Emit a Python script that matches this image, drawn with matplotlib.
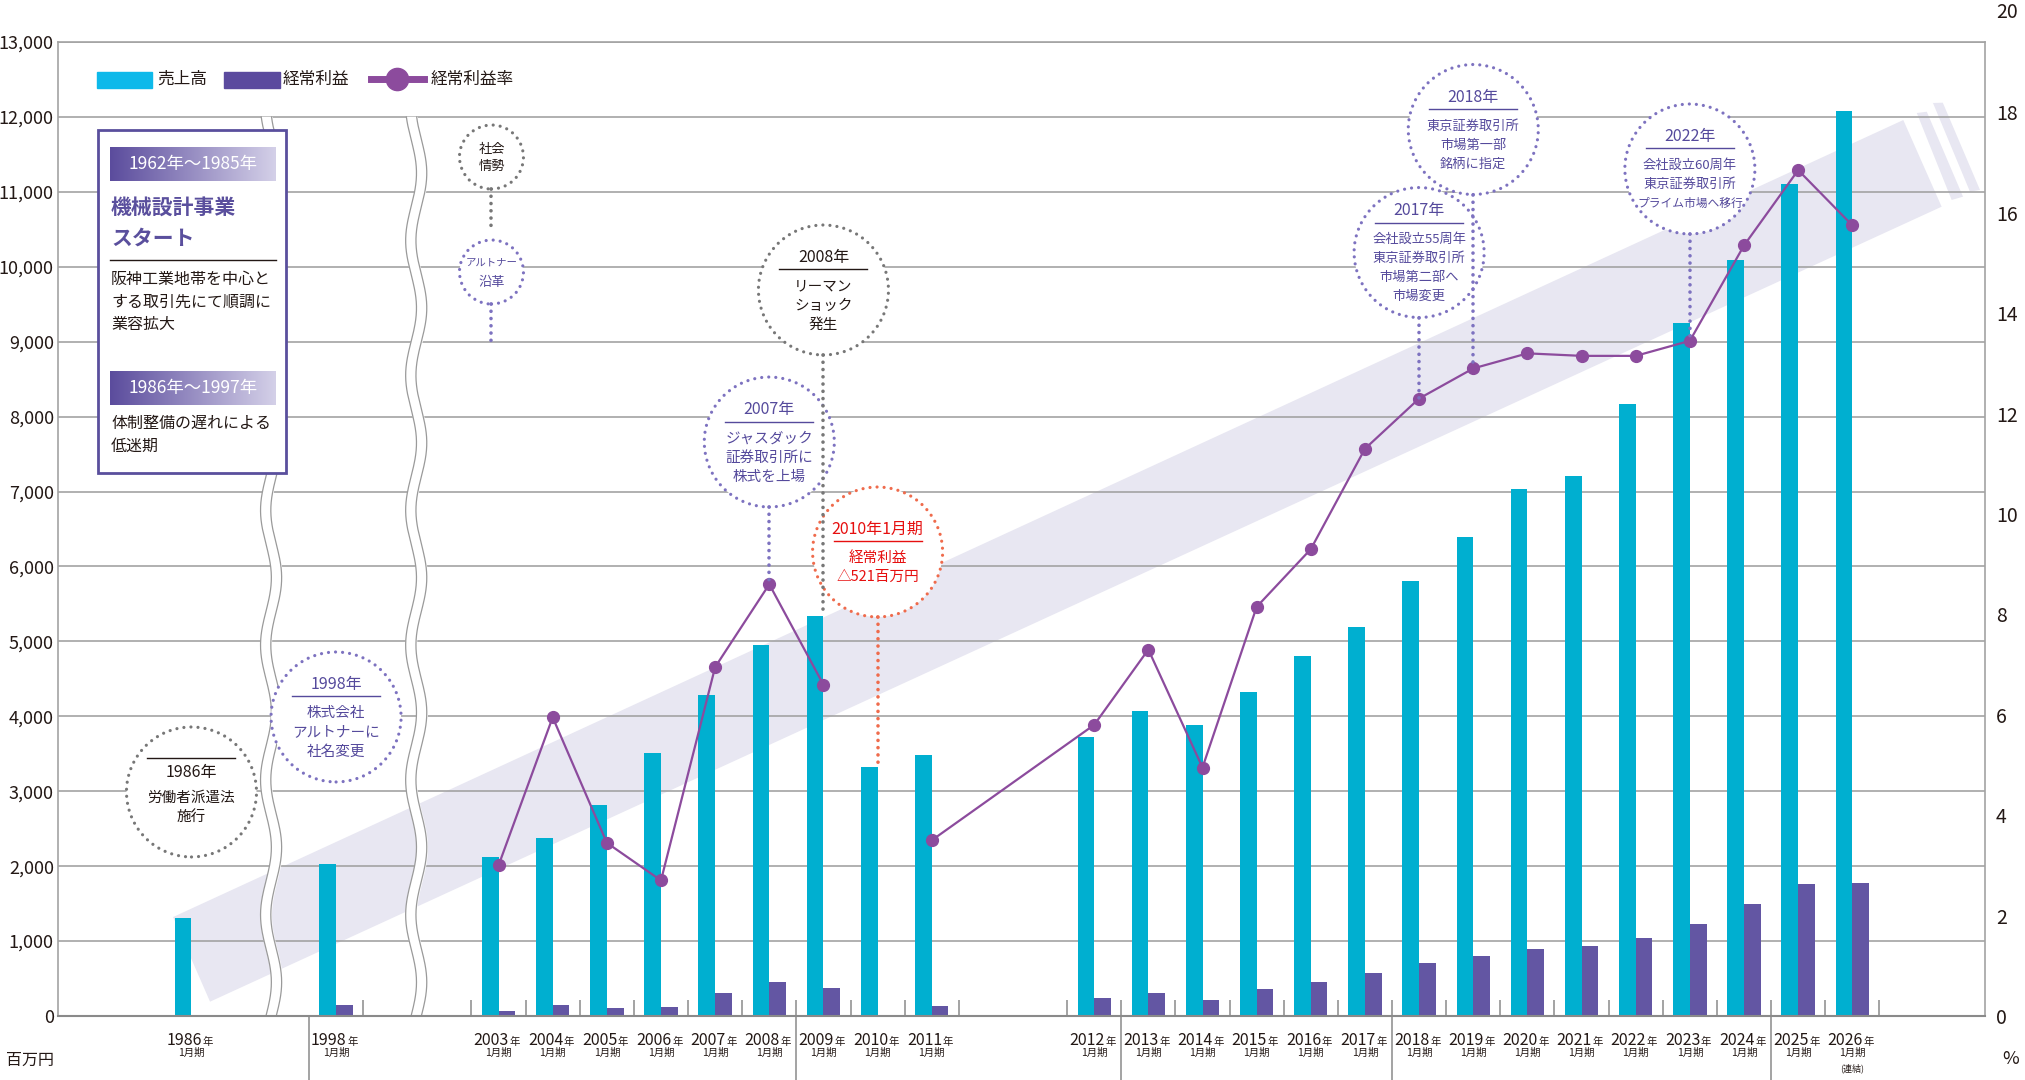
import numpy as np
import matplotlib
matplotlib.use("Agg")
import matplotlib.pyplot as plt
from matplotlib.patches import Rectangle, Ellipse, Polygon
from matplotlib.lines import Line2D
from matplotlib.colors import LinearSegmentedColormap

plt.rcParams["font.family"] = ["Noto Sans CJK JP", "DejaVu Sans"]

# ---- data ----
years = ["1986", "1998", "2003", "2004", "2005", "2006", "2007", "2008", "2009",
         "2010", "2011", "2012", "2013", "2014", "2015", "2016", "2017", "2018",
         "2019", "2020", "2021", "2022", "2023", "2024", "2025", "2026"]
sales = [1310, 2030, 2120, 2380, 2810, 3515, 4290, 4950, 5345, 3330, 3480, 3720,
         4065, 3880, 4330, 4810, 5190, 5810, 6395, 7035, 7205, 8170, 9255, 10085,
         11100, 12085]
profit = [np.nan, 147, 62, 147, 102, 116, 307, 454, 369, -521, 129, 236, 307, 209,
          360, 449, 569, 712, 801, 899, 935, 1041, 1228, 1495, 1766, 1780]
ratio = [np.nan, np.nan, 3.0, 5.95, 3.45, 2.7, 6.95, 8.6, 6.6, np.nan, 3.5, 5.8,
         7.3, 4.95, 8.15, 9.3, 11.3, 12.3, 12.9, 13.2, 13.15, 13.15, 13.45, 15.35,
         16.85, 15.75]

sales = np.array(sales, dtype=float)
profit = np.array(profit, dtype=float)
ratio = np.array(ratio, dtype=float)

# gaps on the time axis (distance from previous category)
gap_before = {"1998": 2.67, "2003": 3.0, "2012": 3.0}
x = np.cumsum([0.0] + [gap_before.get(y, 1.0) for y in years[1:]])
pos = dict(zip(years, x))

CYAN = "#00afd0"
PURPLE = "#6356a3"
LINE = "#8c4b9d"
GRID = "#a3a3a3"
TXT = "#231815"
DOT = {"grey": "#777777", "purple": "#7d72c0", "red": "#ef6b4c"}
TCOL = {"grey": TXT, "purple": "#554a9c", "red": "#e60f0f"}

W, H = 2025, 1080
L, R, T, B = 58, 1985, 42, 1016
fig = plt.figure(figsize=(W / 100, H / 100), dpi=100)
ax = fig.add_axes([L / W, 1 - B / H, (R - L) / W, (B - T) / H])
ax2 = ax.twinx()

x0 = pos["2003"]
ax.set_xlim(x0 - 8.135, x0 + 27.45)
ax.set_ylim(0, 13000)
ax2.set_ylim(0, (B - T) / 50.2)

# diagonal decorative band (axes fraction)
band = [(0.0597, 0.1016), (0.9576, 0.9199), (0.9775, 0.8309), (0.0789, 0.0147)]
stripes = [[(0.9646, 0.9271), (0.9698, 0.9284), (0.9886, 0.8412), (0.9827, 0.8378)],
           [(0.9730, 0.9374), (0.9781, 0.9377), (0.9974, 0.8481), (0.9922, 0.8463)]]
for poly in [band] + stripes:
    ax.add_patch(Polygon(poly, closed=True, transform=ax.transAxes,
                         fc="#e8e7f2", ec="none", zorder=0.2))

# grid / spines
ax.set_axisbelow(True)
ax.set_yticks(np.arange(0, 13001, 1000))
ax.set_yticklabels([f"{v:,}" for v in range(0, 13001, 1000)])
ax.yaxis.grid(True, color=GRID, lw=1.2)
ax.set_xticks([])
for s in ["left", "right", "top"]:
    ax.spines[s].set_color(GRID)
    ax.spines[s].set_linewidth(1.2)
ax.spines["bottom"].set_color("#8a8a8a")
ax.spines["bottom"].set_linewidth(1.5)
ax.tick_params(axis="y", length=0, pad=3, labelsize=13, labelcolor=TXT)
for s in ax2.spines.values():
    s.set_visible(False)
ax2.set_yticks(np.arange(0, 19, 2))
ax2.tick_params(axis="y", length=0, pad=8, labelsize=14, labelcolor=TXT)
ax2.annotate("20", xy=(1, 20), xycoords=("axes fraction", "data"),
             xytext=(8, 0), textcoords="offset points", ha="left", va="center",
             fontsize=14, color=TXT, annotation_clip=False)

# axis breaks (wavy white bands)
for xc in [x0 - 4.20, x0 - 1.52]:
    yy = np.linspace(0, 12000, 400)
    wob = 0.1 * np.sin(2 * np.pi * yy / 1800)
    ax.fill_betweenx(yy, xc - 0.095 + wob, xc + 0.095 + wob, color="white", zorder=1.5)
    ax.plot(xc - 0.095 + wob, yy, color="#9a9a9a", lw=0.9, zorder=1.6)
    ax.plot(xc + 0.095 + wob, yy, color="#9a9a9a", lw=0.9, zorder=1.6)

# bars
bw = 0.308
ax.bar(x - bw / 2, sales, bw, color=CYAN, zorder=2)
m = profit > 0
ax.bar(x[m] + bw / 2, profit[m], bw, color=PURPLE, zorder=2)

# small category separators
bounds = {pos["1998"] + 0.5}
for y, xi in pos.items():
    if int(y) >= 2003:
        bounds |= {xi - 0.5, xi + 0.5}
ax.vlines(sorted(bounds), 0, 214, color="#8a8a8a", lw=1.1, zorder=2)
eras = [pos["1998"] - 0.5, pos["2008"] + 0.5, pos["2012"] + 0.5,
        pos["2017"] + 0.5, pos["2024"] + 0.5]
ax.vlines(eras, -0.066, 0, transform=ax.get_xaxis_transform(), clip_on=False,
          color="#8a8a8a", lw=1.1)

# ratio line
ax2.plot(x, ratio, color=LINE, lw=1.6, marker="o", ms=8.5, zorder=3)

# category labels
xt = ax.get_xaxis_transform()
for y, xi in pos.items():
    ax.annotate(y, xy=(xi, 0), xycoords=xt, xytext=(7.5, -21), textcoords="offset points",
                ha="right", va="baseline", fontsize=11.5, color=TXT, annotation_clip=False)
    ax.annotate("年", xy=(xi, 0), xycoords=xt, xytext=(8, -21), textcoords="offset points",
                ha="left", va="baseline", fontsize=7.5, color=TXT, annotation_clip=False)
    ax.annotate("1月期", xy=(xi, 0), xycoords=xt, xytext=(0, -26.5), textcoords="offset points",
                ha="center", va="center", fontsize=7.5, color=TXT, annotation_clip=False)
ax.annotate("(連結)", xy=(pos["2026"], 0), xycoords=xt, xytext=(0, -38),
            textcoords="offset points", ha="center", va="center", fontsize=6.5,
            color=TXT, annotation_clip=False)

fig.text(6 / W, 1 - 1060 / H, "百万円", ha="left", va="center", fontsize=11.5, color=TXT)
fig.text(2002 / W, 1 - 1059 / H, "%", ha="left", va="center", fontsize=13, color=TXT)


def P(px, py):
    return px / W, 1 - py / H


def fig_pt(a, xv, yv, dx=0, dy=0):
    px, py = a.transData.transform((xv, yv))
    return (px + dx) / W, (py - dy) / H


def dotted_line(p0, p1, color):
    fig.add_artist(Line2D([p0[0], p1[0]], [p0[1], p1[1]], transform=fig.transFigure,
                          color=color, lw=2.6, ls=(0, (0.01, 2.0)),
                          solid_capstyle="round", dash_capstyle="round", zorder=6))


def circle(cx, cy, r, kind):
    e = Ellipse((cx, cy), 2 * r / W, 2 * r / H, transform=fig.transFigure,
                fc="white", ec=DOT[kind], lw=2.3, ls=(0, (0.01, 2.2)), zorder=5)
    e.set_capstyle("round")
    fig.add_artist(e)


# legend
fig.add_artist(Rectangle(P(97, 88), 55 / W, 16 / H, transform=fig.transFigure,
                         color="#0db9ea", zorder=7))
fig.text(*P(157, 79), "売上高", ha="left", va="center", fontsize=12, color=TXT, zorder=7)
fig.add_artist(Rectangle(P(224, 88), 56 / W, 16 / H, transform=fig.transFigure,
                         color="#5b4a9e", zorder=7))
fig.text(*P(283, 79), "経常利益", ha="left", va="center", fontsize=12, color=TXT, zorder=7)
fig.add_artist(Line2D([371 / W, 424 / W], [1 - 79 / H] * 2, transform=fig.transFigure,
                      color=LINE, lw=5, zorder=7))
fig.add_artist(Line2D([397 / W], [1 - 79 / H], transform=fig.transFigure, color=LINE,
                      marker="o", ms=16, zorder=7))
fig.text(*P(431, 79), "経常利益率", ha="left", va="center", fontsize=12, color=TXT, zorder=7)

# history box
BOXC = "#5a4f9d"
fig.add_artist(Rectangle(P(98, 473), 188 / W, 343 / H, transform=fig.transFigure,
                         fc="white", ec=BOXC, lw=2, zorder=5))
cmap = LinearSegmentedColormap.from_list("bn", ["#5b4c9d", "#d4d0e8"])
for top, label in [(147, "1962年〜1985年"), (371, "1986年〜1997年")]:
    bax = fig.add_axes([110 / W, 1 - (top + 34) / H, 165.5 / W, 34 / H])
    bax.set_zorder(10)
    bax.imshow(np.linspace(0, 1, 256).reshape(1, -1), cmap=cmap, aspect="auto",
               extent=[0, 1, 0, 1])
    bax.text(0.5, 0.5, label, ha="center", va="center", color="white", fontsize=12.5,
             transform=bax.transAxes)
    bax.axis("off")
for py, s in [(207, "機械設計事業"), (238, "スタート")]:
    fig.text(*P(111, py), s, ha="left", va="center", fontsize=15, fontweight="bold",
             color=BOXC, zorder=7)
fig.add_artist(Line2D([110 / W, 275.5 / W], [1 - 260 / H] * 2, transform=fig.transFigure,
                      color=TXT, lw=1.0, zorder=7))
for py, s in [(279, "阪神工業地帯を中心と"), (302, "する取引先にて順調に"), (325, "業容拡大"),
              (423, "体制整備の遅れによる"), (446, "低迷期")]:
    fig.text(*P(111, py), s, ha="left", va="center", fontsize=11.5, color=TXT, zorder=7)

# small "legend" circles for callout kinds
sx = x0 - 0.13
c1 = fig_pt(ax, sx, 11465)
circle(c1[0], c1[1], 32, "grey")
fig.text(c1[0], c1[1] + 8 / H, "社会", ha="center", va="center", fontsize=9.5, color=TXT, zorder=7)
fig.text(c1[0], c1[1] - 9 / H, "情勢", ha="center", va="center", fontsize=9.5, color=TXT, zorder=7)
dotted_line((c1[0], c1[1] - 32 / H), (c1[0], c1[1] - 70 / H), DOT["grey"])
c2 = fig_pt(ax, sx, 9930)
circle(c2[0], c2[1], 32, "purple")
fig.text(c2[0], c2[1] + 9 / H, "アルトナー", ha="center", va="center", fontsize=7.5,
         color=TCOL["purple"], zorder=7)
fig.text(c2[0], c2[1] - 10 / H, "沿革", ha="center", va="center", fontsize=9.5,
         color=TCOL["purple"], zorder=7)
dotted_line((c2[0], c2[1] - 32 / H), (c2[0], c2[1] - 71 / H), DOT["purple"])

# event callouts
i2010 = years.index("2010")
callouts = [
    dict(cat="1986", y=2990, kind="grey", title="1986年", body=["労働者派遣法", "施行"],
         rule_above=True),
    dict(cat="1998", y=3991, kind="purple", title="1998年",
         body=["株式会社", "アルトナーに", "社名変更"]),
    dict(cat="2009", y=9690, kind="grey", title="2008年", body=["リーマン", "ショック", "発生"],
         target=(ax, sales[years.index("2009")])),
    dict(cat="2008", y=7661, kind="purple", title="2007年",
         body=["ジャスダック", "証券取引所に", "株式を上場"],
         target=(ax2, ratio[years.index("2008")])),
    dict(cat="2010", y=6193, kind="red", title="2010年1月期",
         body=["経常利益", f"△{-profit[i2010]:.0f}百万円"], target=(ax, sales[i2010])),
    dict(cat="2018", y=10190, kind="purple", title="2017年", small=True,
         body=["会社設立55周年", "東京証券取引所", "市場第二部へ", "市場変更"],
         target=(ax2, ratio[years.index("2018")])),
    dict(cat="2019", y=11832, kind="purple", title="2018年", small=True,
         body=["東京証券取引所", "市場第一部", "銘柄に指定"],
         target=(ax2, ratio[years.index("2019")])),
    dict(cat="2023", y=11305, kind="purple", title="2022年", small=True,
         body=["会社設立60周年", "東京証券取引所", "プライム市場へ移行"],
         target=(ax2, ratio[years.index("2023")])),
]
R0 = 65
for c in callouts:
    cx, cy = fig_pt(ax, pos[c["cat"]], c["y"])
    circle(cx, cy, R0, c["kind"])
    col = TCOL[c["kind"]]
    n = len(c["body"])
    first = 15.5 - (n - 1) * 19 / 2
    if c.get("rule_above"):
        t_dy, l_dy = first - 25, first - 40
    else:
        t_dy, l_dy = first - 29, first - 17
    fig.text(cx, cy - t_dy / H, c["title"], ha="center", va="center", fontsize=11.5,
             color=col, zorder=7)
    fig.add_artist(Line2D([cx - 44 / W, cx + 44 / W], [cy - l_dy / H] * 2,
                          transform=fig.transFigure, color=col, lw=1.0, zorder=7))
    for k, s in enumerate(c["body"]):
        fs = 9.5 if c.get("small") else 10.5
        if len(s) > 8:
            fs = 8.5
        fig.text(cx, cy - (first + 19 * k) / H, s, ha="center", va="center", fontsize=fs,
                 color=col, zorder=7)
    if "target" in c:
        a, v = c["target"]
        tx, ty = fig_pt(a, pos[c["cat"]], v)
        dotted_line((cx, cy - R0 / H), (tx, ty), DOT[c["kind"]])

fig.savefig("out.png", dpi=100)
